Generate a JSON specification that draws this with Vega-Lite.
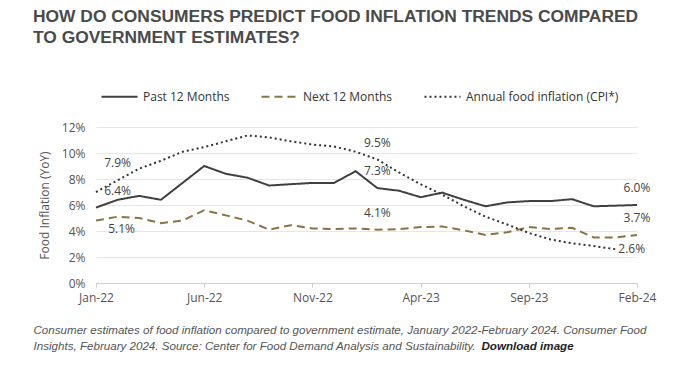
{
  "$schema": "https://vega.github.io/schema/vega-lite/v6.json",
  "width": 541,
  "height": 156,
  "autosize": {"type": "none"},
  "padding": {"left": 96, "top": 127, "right": 43, "bottom": 82},
  "background": "white",
  "title": {
    "text": ["HOW DO CONSUMERS PREDICT FOOD INFLATION TRENDS COMPARED", "TO GOVERNMENT ESTIMATES?"],
    "anchor": "start",
    "frame": "group",
    "dx": -63,
    "font": "Liberation Sans",
    "fontSize": 17.4,
    "fontWeight": "bold",
    "color": "#4a4a4a",
    "lineHeight": 21,
    "offset": 31
  },
  "config": {
    "font": "Open Sans",
    "view": {"stroke": null}
  },
  "data": {
    "values": [
      {"month": "Jan-22", "series": "Past 12 Months", "value": 5.8},
      {"month": "Feb-22", "series": "Past 12 Months", "value": 6.4},
      {"month": "Mar-22", "series": "Past 12 Months", "value": 6.7},
      {"month": "Apr-22", "series": "Past 12 Months", "value": 6.4},
      {"month": "May-22", "series": "Past 12 Months", "value": 7.7},
      {"month": "Jun-22", "series": "Past 12 Months", "value": 9.0},
      {"month": "Jul-22", "series": "Past 12 Months", "value": 8.4},
      {"month": "Aug-22", "series": "Past 12 Months", "value": 8.1},
      {"month": "Sep-22", "series": "Past 12 Months", "value": 7.5},
      {"month": "Oct-22", "series": "Past 12 Months", "value": 7.6},
      {"month": "Nov-22", "series": "Past 12 Months", "value": 7.7},
      {"month": "Dec-22", "series": "Past 12 Months", "value": 7.7},
      {"month": "Jan-23", "series": "Past 12 Months", "value": 8.6},
      {"month": "Feb-23", "series": "Past 12 Months", "value": 7.3},
      {"month": "Mar-23", "series": "Past 12 Months", "value": 7.1},
      {"month": "Apr-23", "series": "Past 12 Months", "value": 6.6},
      {"month": "May-23", "series": "Past 12 Months", "value": 6.95},
      {"month": "Jun-23", "series": "Past 12 Months", "value": 6.4},
      {"month": "Jul-23", "series": "Past 12 Months", "value": 5.9},
      {"month": "Aug-23", "series": "Past 12 Months", "value": 6.2},
      {"month": "Sep-23", "series": "Past 12 Months", "value": 6.3},
      {"month": "Oct-23", "series": "Past 12 Months", "value": 6.3},
      {"month": "Nov-23", "series": "Past 12 Months", "value": 6.45},
      {"month": "Dec-23", "series": "Past 12 Months", "value": 5.9},
      {"month": "Jan-24", "series": "Past 12 Months", "value": 5.95},
      {"month": "Feb-24", "series": "Past 12 Months", "value": 6.0},
      {"month": "Jan-22", "series": "Next 12 Months", "value": 4.8},
      {"month": "Feb-22", "series": "Next 12 Months", "value": 5.1},
      {"month": "Mar-22", "series": "Next 12 Months", "value": 5.0},
      {"month": "Apr-22", "series": "Next 12 Months", "value": 4.6},
      {"month": "May-22", "series": "Next 12 Months", "value": 4.8},
      {"month": "Jun-22", "series": "Next 12 Months", "value": 5.6},
      {"month": "Jul-22", "series": "Next 12 Months", "value": 5.2},
      {"month": "Aug-22", "series": "Next 12 Months", "value": 4.8},
      {"month": "Sep-22", "series": "Next 12 Months", "value": 4.1},
      {"month": "Oct-22", "series": "Next 12 Months", "value": 4.45},
      {"month": "Nov-22", "series": "Next 12 Months", "value": 4.2},
      {"month": "Dec-22", "series": "Next 12 Months", "value": 4.15},
      {"month": "Jan-23", "series": "Next 12 Months", "value": 4.2},
      {"month": "Feb-23", "series": "Next 12 Months", "value": 4.1},
      {"month": "Mar-23", "series": "Next 12 Months", "value": 4.15},
      {"month": "Apr-23", "series": "Next 12 Months", "value": 4.3},
      {"month": "May-23", "series": "Next 12 Months", "value": 4.35},
      {"month": "Jun-23", "series": "Next 12 Months", "value": 4.05},
      {"month": "Jul-23", "series": "Next 12 Months", "value": 3.7},
      {"month": "Aug-23", "series": "Next 12 Months", "value": 3.9},
      {"month": "Sep-23", "series": "Next 12 Months", "value": 4.3},
      {"month": "Oct-23", "series": "Next 12 Months", "value": 4.15},
      {"month": "Nov-23", "series": "Next 12 Months", "value": 4.25},
      {"month": "Dec-23", "series": "Next 12 Months", "value": 3.5},
      {"month": "Jan-24", "series": "Next 12 Months", "value": 3.5},
      {"month": "Feb-24", "series": "Next 12 Months", "value": 3.7},
      {"month": "Jan-22", "series": "Annual food inflation (CPI*)", "value": 7.0},
      {"month": "Feb-22", "series": "Annual food inflation (CPI*)", "value": 7.9},
      {"month": "Mar-22", "series": "Annual food inflation (CPI*)", "value": 8.8},
      {"month": "Apr-22", "series": "Annual food inflation (CPI*)", "value": 9.4},
      {"month": "May-22", "series": "Annual food inflation (CPI*)", "value": 10.1},
      {"month": "Jun-22", "series": "Annual food inflation (CPI*)", "value": 10.45},
      {"month": "Jul-22", "series": "Annual food inflation (CPI*)", "value": 10.9},
      {"month": "Aug-22", "series": "Annual food inflation (CPI*)", "value": 11.35},
      {"month": "Sep-22", "series": "Annual food inflation (CPI*)", "value": 11.2},
      {"month": "Oct-22", "series": "Annual food inflation (CPI*)", "value": 10.9},
      {"month": "Nov-22", "series": "Annual food inflation (CPI*)", "value": 10.65},
      {"month": "Dec-22", "series": "Annual food inflation (CPI*)", "value": 10.5},
      {"month": "Jan-23", "series": "Annual food inflation (CPI*)", "value": 10.1},
      {"month": "Feb-23", "series": "Annual food inflation (CPI*)", "value": 9.5},
      {"month": "Mar-23", "series": "Annual food inflation (CPI*)", "value": 8.5},
      {"month": "Apr-23", "series": "Annual food inflation (CPI*)", "value": 7.6},
      {"month": "May-23", "series": "Annual food inflation (CPI*)", "value": 6.8},
      {"month": "Jun-23", "series": "Annual food inflation (CPI*)", "value": 5.9},
      {"month": "Jul-23", "series": "Annual food inflation (CPI*)", "value": 5.1},
      {"month": "Aug-23", "series": "Annual food inflation (CPI*)", "value": 4.5},
      {"month": "Sep-23", "series": "Annual food inflation (CPI*)", "value": 3.85},
      {"month": "Oct-23", "series": "Annual food inflation (CPI*)", "value": 3.35},
      {"month": "Nov-23", "series": "Annual food inflation (CPI*)", "value": 3.05},
      {"month": "Dec-23", "series": "Annual food inflation (CPI*)", "value": 2.85},
      {"month": "Jan-24", "series": "Annual food inflation (CPI*)", "value": 2.6}
    ]
  },
  "transform": [{"calculate": "format(datum.value, '.1f') + '%'", "as": "label"}],
  "encoding": {
    "x": {
      "field": "month",
      "type": "ordinal",
      "scale": {
        "type": "point",
        "padding": 0,
        "domain": ["Jan-22", "Feb-22", "Mar-22", "Apr-22", "May-22", "Jun-22", "Jul-22", "Aug-22", "Sep-22", "Oct-22", "Nov-22", "Dec-22", "Jan-23", "Feb-23", "Mar-23", "Apr-23", "May-23", "Jun-23", "Jul-23", "Aug-23", "Sep-23", "Oct-23", "Nov-23", "Dec-23", "Jan-24", "Feb-24"]
      },
      "axis": {
        "values": ["Jan-22", "Jun-22", "Nov-22", "Apr-23", "Sep-23", "Feb-24"],
        "labelAngle": 0,
        "labelFontSize": 12,
        "labelColor": "#555555",
        "labelPadding": 5,
        "tickSize": 4,
        "tickColor": "#d0d0d0",
        "domainColor": "#d0d0d0",
        "grid": false,
        "title": ["Consumer estimates of food inflation compared to government estimate, January 2022-February 2024. Consumer Food", "Insights, February 2024. Source: Center for Food Demand Analysis and Sustainability."],
        "titleFont": "Liberation Sans",
        "titleFontStyle": "italic",
        "titleFontWeight": "normal",
        "titleFontSize": 11.6,
        "titleColor": "#555555",
        "titleLineHeight": 16,
        "titleAlign": "left",
        "titleAnchor": "start",
        "titleBaseline": "top",
        "titleX": -63,
        "titleY": 41
      }
    }
  },
  "layer": [
    {
      "mark": {"type": "line", "strokeWidth": 2, "strokeCap": "butt"},
      "encoding": {
        "y": {
          "field": "value",
          "type": "quantitative",
          "scale": {"domain": [0, 12]},
          "axis": {
            "orient": "left",
            "values": [0, 2, 4, 6, 8, 10, 12],
            "labelExpr": "datum.value + '%'",
            "labelFontSize": 12,
            "labelColor": "#555555",
            "labelPadding": 11,
            "grid": true,
            "gridColor": "#e6e6e6",
            "domain": false,
            "ticks": false,
            "title": "Food Inflation (YoY)",
            "titleFontSize": 12,
            "titleFontWeight": "normal",
            "titleColor": "#555555",
            "titlePadding": 10
          }
        },
        "color": {
          "field": "series",
          "type": "nominal",
          "scale": {
            "domain": ["Past 12 Months", "Next 12 Months", "Annual food inflation (CPI*)"],
            "range": ["#404040", "#8a7444", "#333333"]
          },
          "legend": {
            "title": null,
            "orient": "none",
            "legendX": 4,
            "legendY": -50,
            "direction": "horizontal",
            "symbolType": "stroke",
            "symbolSize": 1300,
            "symbolStrokeWidth": 2,
            "labelFontSize": 12,
            "labelColor": "#333333",
            "columnPadding": 27,
            "labelOffset": 4
          }
        },
        "strokeDash": {
          "field": "series",
          "type": "nominal",
          "scale": {
            "domain": ["Past 12 Months", "Next 12 Months", "Annual food inflation (CPI*)"],
            "range": [[1, 0], [8, 5], [2, 3]]
          },
          "legend": {
            "title": null,
            "orient": "none",
            "legendX": 4,
            "legendY": -50,
            "direction": "horizontal",
            "symbolType": "stroke",
            "symbolSize": 1300,
            "symbolStrokeWidth": 2,
            "labelFontSize": 12,
            "labelColor": "#333333",
            "columnPadding": 27,
            "labelOffset": 4
          }
        }
      }
    },
    {
      "transform": [{"filter": "(datum.series == 'Annual food inflation (CPI*)' && (datum.month == 'Feb-22' || datum.month == 'Feb-23')) || (datum.series != 'Annual food inflation (CPI*)' && (datum.month == 'Feb-23' || datum.month == 'Feb-24'))"}],
      "mark": {"type": "text", "dy": -17, "fontSize": 12, "color": "#444444", "baseline": "middle"},
      "encoding": {
        "y": {
          "field": "value",
          "type": "quantitative",
          "axis": {
            "orient": "right",
            "labels": false,
            "ticks": false,
            "domain": false,
            "grid": false,
            "title": "Download image",
            "titleAngle": 0,
            "titleAlign": "left",
            "titleBaseline": "top",
            "titleX": -156,
            "titleY": 213,
            "titleFont": "Liberation Sans",
            "titleFontWeight": "bold",
            "titleFontStyle": "italic",
            "titleFontSize": 11.6,
            "titleColor": "#222222"
          }
        },
        "text": {"field": "label"}
      }
    },
    {
      "transform": [{"filter": "datum.series == 'Past 12 Months' && datum.month == 'Feb-22'"}],
      "mark": {"type": "text", "dy": -9, "fontSize": 12, "color": "#444444", "baseline": "middle"},
      "encoding": {
        "y": {"field": "value", "type": "quantitative", "axis": null},
        "text": {"field": "label"}
      }
    },
    {
      "transform": [{"filter": "datum.series == 'Next 12 Months' && datum.month == 'Feb-22'"}],
      "mark": {"type": "text", "dy": 12, "dx": 4, "fontSize": 12, "color": "#444444", "baseline": "middle"},
      "encoding": {
        "y": {"field": "value", "type": "quantitative", "axis": null},
        "text": {"field": "label"}
      }
    },
    {
      "transform": [{"filter": "datum.series == 'Annual food inflation (CPI*)' && datum.month == 'Jan-24'"}],
      "mark": {"type": "text", "dx": 3, "align": "left", "fontSize": 12, "color": "#444444", "baseline": "middle"},
      "encoding": {
        "y": {"field": "value", "type": "quantitative", "axis": null},
        "text": {"field": "label"}
      }
    }
  ],
  "resolve": {"axis": {"y": "independent"}}
}
